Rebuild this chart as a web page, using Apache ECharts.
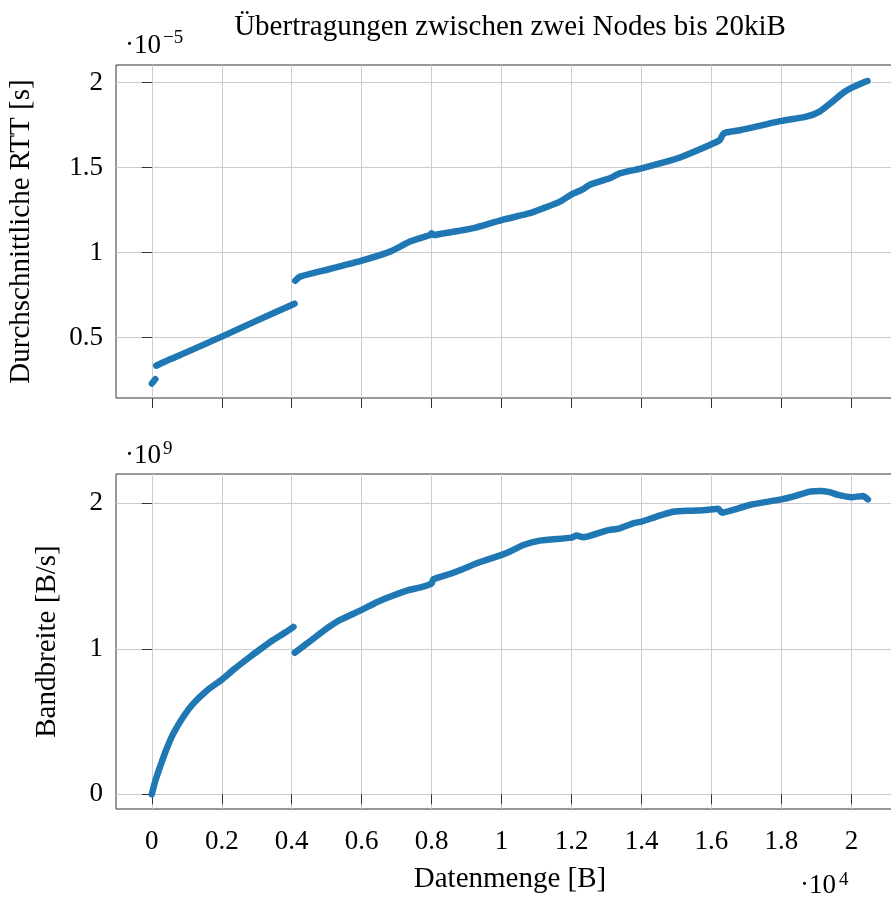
<!DOCTYPE html>
<html>
<head>
<meta charset="utf-8">
<script src="https://cdn.jsdelivr.net/npm/echarts@6/dist/echarts.min.js"></script>
<style>
  html, body { margin: 0; padding: 0; background: #fff; }
  #chart { width: 891px; height: 897px; }
</style>
</head>
<body>
<div id="chart"></div>
<script>
// Datenmenge [B] -> RTT [10^-5 s], in drei Stücken (Sprünge bei ~128 B und ~4 KiB)
const rttSeg1 = [[0, 0.23], [100, 0.255]]
const rttSeg2 = [
  [128, 0.335], [523, 0.373], [1000, 0.415], [2000, 0.506], [3000, 0.600],
  [4000, 0.692], [4080, 0.70]
]
const rttSeg3 = [
  [4100, 0.835], [4240, 0.859], [5090, 0.904], [6000, 0.953], [6810, 1.006],
  [7380, 1.065], [7950, 1.104], [8000, 1.114], [8060, 1.104], [8240, 1.11],
  [9160, 1.143], [10000, 1.192], [10810, 1.232], [11240, 1.265], [11670, 1.30],
  [12000, 1.343], [12320, 1.373], [12520, 1.40], [13090, 1.438], [13380, 1.467],
  [14000, 1.496], [14710, 1.535], [15100, 1.56], [16000, 1.638], [16240, 1.663],
  [16350, 1.702], [16810, 1.72], [18000, 1.775], [18710, 1.80], [19090, 1.83],
  [19470, 1.89], [19760, 1.94], [20000, 1.97], [20330, 2.0], [20460, 2.01]
]
// Datenmenge [B] -> Bandbreite [10^9 B/s]
const bwSeg1 = [
  [0, 0], [94, 0.087], [237, 0.19], [430, 0.316], [620, 0.419], [900, 0.533],
  [1190, 0.625], [1570, 0.712], [2000, 0.788], [2330, 0.855], [2810, 0.945],
  [3090, 0.995], [3470, 1.06], [3860, 1.118], [4050, 1.15]
]
const bwSeg2 = [
  [4090, 0.973], [4470, 1.042], [4900, 1.122], [5380, 1.198], [6000, 1.267],
  [6430, 1.32], [6810, 1.358], [7290, 1.40], [7760, 1.427], [8000, 1.45],
  [8050, 1.478], [8520, 1.514], [8900, 1.548], [9290, 1.588], [10000, 1.645],
  [10240, 1.668], [10620, 1.713], [11090, 1.743], [12000, 1.764], [12140, 1.778],
  [12330, 1.766], [13000, 1.812], [13380, 1.828], [13760, 1.862], [14000, 1.874],
  [14430, 1.908], [14900, 1.942], [15470, 1.949], [15860, 1.954], [16190, 1.962],
  [16300, 1.935], [16620, 1.954], [17090, 1.988], [18000, 2.027], [18330, 2.045],
  [18810, 2.08], [19090, 2.085], [19380, 2.076], [19620, 2.057], [20000, 2.041],
  [20330, 2.05], [20470, 2.027]
]
const xTicks = [0, 2000, 4000, 6000, 8000, 10000, 12000, 14000, 16000, 18000, 20000]
const xTickLabels = ['0', '0.2', '0.4', '0.6', '0.8', '1', '1.2', '1.4', '1.6', '1.8', '2']
const rttTicks = [0.5, 1, 1.5, 2]
const bwTicks = [0, 1, 2]

const serif = 'Liberation Serif'
const blue = '#1f77b4'
const gridLine = { show: true, lineStyle: { color: '#cccccc', width: 1 } }
const tickStyle = { length: 10, lineStyle: { color: '#333', width: 1 } }

const xAxisBase = (idx, showLabels) => ({
  type: 'value',
  gridIndex: idx,
  min: -1024,
  max: 21504,
  axisLine: { show: false },
  axisTick: { show: true, customValues: xTicks, ...tickStyle },
  axisLabel: {
    show: showLabels,
    customValues: xTicks,
    margin: 19,
    fontFamily: serif,
    fontSize: 27,
    color: '#000',
    formatter: v => xTickLabels[xTicks.indexOf(v)]
  },
  splitLine: gridLine
})

const lineSeries = (data, xi, yi) => ({
  type: 'line',
  xAxisIndex: xi,
  yAxisIndex: yi,
  data: data,
  showSymbol: false,
  silent: true,
  smooth: 0.2,
  lineStyle: { color: blue, width: 6.5, cap: 'round', join: 'round' }
})

const chart = echarts.init(document.getElementById('chart'))
chart.setOption({
  animation: false,
  grid: [
    { left: 116, top: 65, width: 788, height: 333, outerBoundsMode: 'none', show: true, borderColor: '#333', borderWidth: 1 },
    { left: 116, top: 474, width: 788, height: 335, outerBoundsMode: 'none', show: true, borderColor: '#333', borderWidth: 1 }
  ],
  xAxis: [
    xAxisBase(0, false),
    {
      ...xAxisBase(1, true),
      name: 'Datenmenge [B]',
      nameLocation: 'middle',
      nameGap: 56,
      nameTextStyle: { fontFamily: serif, fontSize: 29, color: '#000' }
    }
  ],
  yAxis: [
    {
      type: 'value',
      gridIndex: 0,
      min: 0.145,
      max: 2.104,
      name: 'Durchschnittliche RTT [s]',
      nameLocation: 'middle',
      nameGap: 80,
      nameTextStyle: { fontFamily: serif, fontSize: 29, color: '#000' },
      axisLine: { show: false },
      axisTick: { show: true, customValues: rttTicks, ...tickStyle },
      axisLabel: { customValues: rttTicks, margin: 13, fontFamily: serif, fontSize: 27, color: '#000' },
      splitLine: gridLine
    },
    {
      type: 'value',
      gridIndex: 1,
      min: -0.101,
      max: 2.201,
      name: 'Bandbreite [B/s]',
      nameLocation: 'middle',
      nameGap: 54,
      nameTextStyle: { fontFamily: serif, fontSize: 29, color: '#000' },
      axisLine: { show: false },
      axisTick: { show: true, customValues: bwTicks, ...tickStyle },
      axisLabel: { customValues: bwTicks, margin: 13, fontFamily: serif, fontSize: 27, color: '#000' },
      splitLine: gridLine
    }
  ],
  series: [
    lineSeries(rttSeg1, 0, 0),
    lineSeries(rttSeg2, 0, 0),
    lineSeries(rttSeg3, 0, 0),
    lineSeries(bwSeg1, 1, 1),
    lineSeries(bwSeg2, 1, 1)
  ],
  graphic: [
    { type: 'text', x: 510, y: 27, style: { text: 'Übertragungen zwischen zwei Nodes bis 20kiB', font: '29px "Liberation Serif"', fill: '#000', textAlign: 'center', textVerticalAlign: 'middle' } },
    // Skalierungsfaktoren
    { type: 'text', x: 125, y: 46, style: { text: '·10', font: '27px "Liberation Serif"', fill: '#000', textAlign: 'left', textVerticalAlign: 'middle' } },
    { type: 'text', x: 163, y: 38, style: { text: '−5', font: '19px "Liberation Serif"', fill: '#000', textAlign: 'left', textVerticalAlign: 'middle' } },
    { type: 'text', x: 125, y: 456, style: { text: '·10', font: '27px "Liberation Serif"', fill: '#000', textAlign: 'left', textVerticalAlign: 'middle' } },
    { type: 'text', x: 163, y: 449, style: { text: '9', font: '19px "Liberation Serif"', fill: '#000', textAlign: 'left', textVerticalAlign: 'middle' } },
    { type: 'text', x: 800, y: 886, style: { text: '·10', font: '27px "Liberation Serif"', fill: '#000', textAlign: 'left', textVerticalAlign: 'middle' } },
    { type: 'text', x: 839, y: 880, style: { text: '4', font: '19px "Liberation Serif"', fill: '#000', textAlign: 'left', textVerticalAlign: 'middle' } }
  ]
})
</script>
</body>
</html>
